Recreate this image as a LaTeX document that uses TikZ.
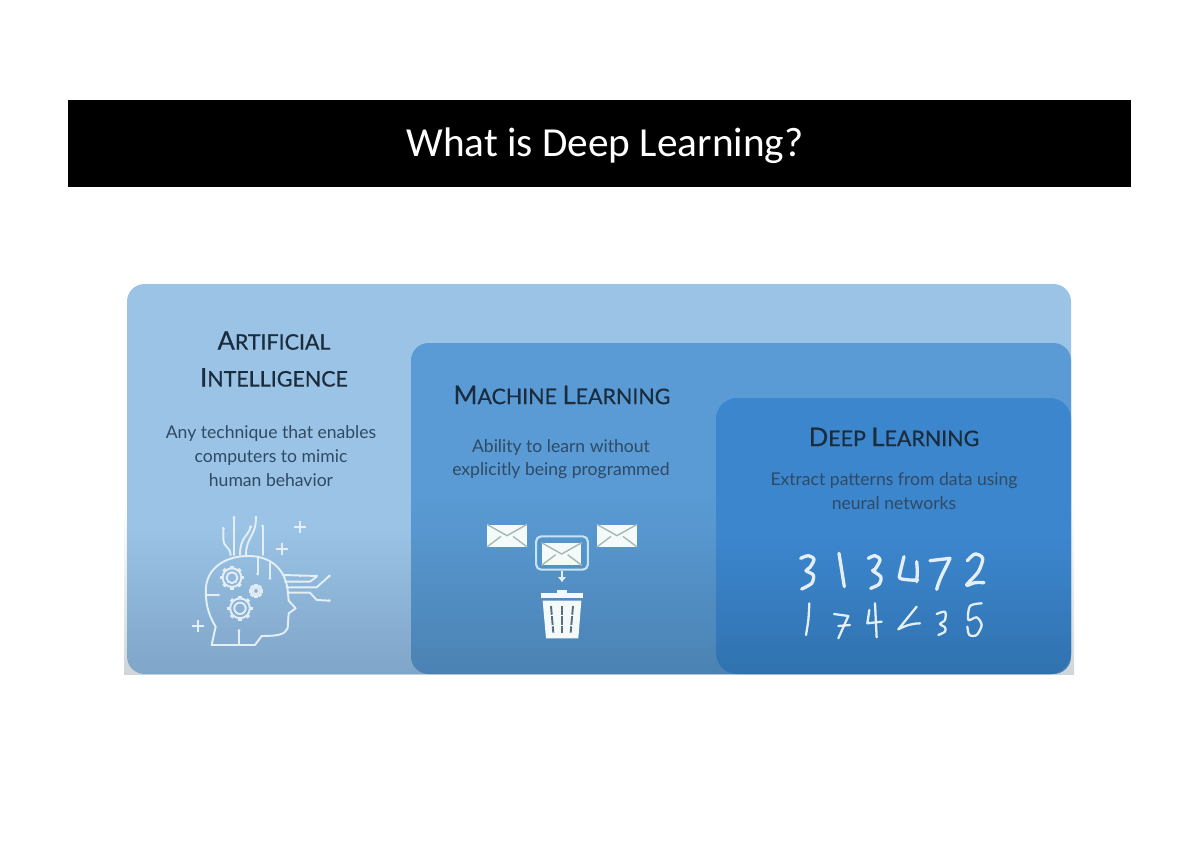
\documentclass[tikz,border=0pt]{standalone}
\usepackage{fontspec}
\setmainfont{Lato}
\newfontfamily\titlefont{Carlito}
\newfontfamily\headfont[FakeBold=0.5]{Lato}
\usetikzlibrary{positioning}
\usetikzlibrary{arrows.meta}

\definecolor{headcol}{HTML}{1B2C3D}
\definecolor{bodycol}{HTML}{2F4A63}
\definecolor{iconcol}{HTML}{E3EEF5}
\definecolor{edgecol}{HTML}{CFD6DA}
\definecolor{mailcol}{HTML}{F4FAFA}
\definecolor{maillinecol}{HTML}{A3B9B4}
\definecolor{framecol}{HTML}{C5E4F5}
\definecolor{aitop}{HTML}{9AC3E6}
\definecolor{aibot}{HTML}{7FA5C8}
\definecolor{mltop}{HTML}{5A9BD5}
\definecolor{mlbot}{HTML}{4B82B3}
\definecolor{dltop}{HTML}{3C86CE}
\definecolor{dlbot}{HTML}{3072AF}

\pgfdeclareverticalshading{aishade}{100bp}{color(0bp)=(aibot);color(25bp)=(aibot);color(44bp)=(aitop);color(100bp)=(aitop)}
\pgfdeclareverticalshading{mlshade}{100bp}{color(0bp)=(mlbot);color(25bp)=(mlbot);color(52bp)=(mltop);color(100bp)=(mltop)}
\pgfdeclareverticalshading{dlshade}{100bp}{color(0bp)=(dlbot);color(25bp)=(dlbot);color(50bp)=(dltop);color(100bp)=(dltop)}

\tikzset{
	headline/.style={text=headcol, align=center, font=\headfont\fontsize{12.2}{20}\selectfont},
	bodyline/.style={text=bodycol, align=center, font=\fontsize{10}{13.5}\selectfont},
	iconline/.style={draw=iconcol, line width=1.1pt, line cap=round, line join=round},
	digitline/.style={draw=iconcol, line width=1.9pt, line cap=round, line join=round},
	thindigit/.style={draw=iconcol, line width=1.3pt, line cap=round, line join=round},
	plusline/.style={draw=iconcol, line width=1.1pt},
	mailbox/.style={fill=mailcol, draw=none, minimum width=22.5pt, minimum height=12.5pt, inner sep=0pt},
}

% small capitals written by hand
\newcommand{\capword}[2]{{\fontsize{14.6}{20}\selectfont #1}#2}

\newcommand{\mailicon}[2]{%
	\node[mailbox] (#1) at (#2) {};
	\draw[draw=maillinecol, line width=0.8pt] (#1.north west) -- (#1.center) -- (#1.north east);
	\draw[draw=maillinecol, line width=0.8pt] (#1.south west) -- ++(8pt,6pt) (#1.south east) -- ++(-8pt,6pt);
}
\newcommand{\gearicon}[3]{%
	\draw[iconline] (#1,#2) circle (#3*0.45);
	\draw[iconline] (#1,#2) circle (#3*0.78);
	\foreach \ang in {0,45,...,315}
		\draw[iconline, line width=2pt, line cap=butt] (#1,#2) ++(\ang:#3*0.78) -- ++(\ang:#3*0.22);
}
\newcommand{\plusicon}[2]{%
	\draw[plusline] (#1-18,#2) -- (#1+18,#2);
	\draw[plusline] (#1,#2-18) -- (#1,#2+18);
}

\begin{document}
\begin{tikzpicture}[x=0.02cm,y=-0.02cm]
	\useasboundingbox (0,0) rectangle (1200,848);
	\fill[white] (0,0) rectangle (1200,848);
	
	\fill[black] (68,100) rectangle (1131,187);
	\node[text=white, font=\titlefont\fontsize{23.5}{28}\selectfont] (titletext) at (605,146) {What is Deep Learning?};
	
	% the three boxes
	\shade[top color=white, bottom color=edgecol] (124,500) rectangle (1074,674);
	\shade[shading=aishade, rounded corners=10pt] (127,284) rectangle (1071,674);
	\shade[shading=mlshade, rounded corners=10pt] (411,343) rectangle (1071,674);
	\shade[shading=dlshade, rounded corners=12pt] (716,398) rectangle (1071,674);
	
	\node[headline] (aihead) at (274,359) {\capword{A}{RTIFICIAL}\\[1pt]\capword{I}{NTELLIGENCE}};
	\node[bodyline] (aitext) at (271,456) {Any technique that enables\\computers to mimic\\human behavior};
	\node[headline] (mlhead) at (562,395) {\capword{M}{ACHINE} \capword{L}{EARNING}};
	\node[bodyline] (mltext) at (561,459) {Ability to learn without\\explicitly being programmed};
	\node[headline] (dlhead) at (894,437) {\capword{D}{EEP} \capword{L}{EARNING}};
	\node[bodyline] (dltext) at (894,491) {Extract patterns from data using\\neural networks};
	
	% head with gears
	\begin{scope}[shift={(120,280)},x=0.00667cm,y=-0.00667cm]
		\draw[iconline] (275,1095) -- (287,1040) .. controls (262,1000) and (255,960) .. (258,920)
			.. controls (265,860) and (320,828) .. (385,828)
			.. controls (450,828) and (495,865) .. (503,930) -- (506,962) -- (527,985) -- (506,1000)
			-- (503,1045) .. controls (495,1065) and (470,1068) .. (425,1068) -- (405,1095) -- cycle;
		\gearicon{336}{893}{36}
		\gearicon{408}{933}{21}
		\gearicon{360}{985}{38}
		% wires at the top
		\draw[iconline] (310,745) -- (310,780) .. controls (310,800) and (330,800) .. (332,825);
		\draw[iconline] (342,712) -- (342,825);
		\draw[iconline] (392,740) .. controls (385,770) and (360,770) .. (360,825);
		\draw[iconline] (408,712) .. controls (408,770) and (378,770) .. (378,825);
		\draw[iconline] (428,738) -- (428,825);
		\draw[iconline] (413,830) -- (413,882);
		\draw[iconline] (450,850) -- (450,895);
		\draw[iconline] (262,945) -- (295,945);
		\draw[iconline] (357,1095) -- (357,1052);
		% wires to the right
		\draw[iconline] (490,885) -- (590,888);
		\draw[iconline] (495,905) -- (570,905) -- (590,890);
		\draw[iconline] (500,922) -- (590,922) -- (628,888);
		\draw[iconline] (503,938) -- (570,938) -- (590,960) -- (628,962);
		\foreach \px/\py in {310/745,342/712,392/740,408/712,428/738,413/882,450/895,295/945,357/1052,540/888,590/888,628/888,628/962}
			\fill[iconcol] (\px,\py) circle (4.5);
		\plusicon{540}{742}
		\plusicon{487}{806}
		\plusicon{235}{1038}
	\end{scope}
	
	% mail and bin
	\begin{scope}[shift={(410,500)},x=0.00667cm,y=-0.00667cm]
		\mailicon{mailone}{291,107}
		\mailicon{mailtwo}{621,107}
		\mailicon{mailthree}{455,162}
		\node[draw=framecol, line width=1.2pt, rounded corners=3pt, minimum width=29.5pt, minimum height=19pt, inner sep=0pt] (mailframe) at (456,159) {};
		\coordinate (bintop) at (456,247);
		\draw[-{Latex[length=3pt,width=5pt]}, draw=iconcol, line width=1pt] (mailframe.south) -- (bintop);
		\fill[mailcol] (392,280) rectangle (520,293);
		\fill[mailcol] (440,270) rectangle (470,280);
		\fill[mailcol] (398,302) -- (514,302) -- (505,415) -- (408,415) -- cycle;
		\foreach \xa/\xb in {423/430,456/456,489/482}
			\draw[draw=bodycol!80, line width=1.1pt, dash pattern=on 5pt off 0.8pt] (\xa,318) -- (\xb,398);
	\end{scope}
	
	% handwritten digits
	\begin{scope}[shift={(760,540)},x=0.00667cm,y=-0.00667cm]
		\draw[digitline] plot[smooth] coordinates {(122,55)(145,47)(162,58)(150,82)(138,92)(160,105)(155,130)(125,147)};
		\draw[digitline] plot[smooth] coordinates {(237,40)(245,90)(253,140)};
		\draw[digitline] plot[smooth] coordinates {(325,55)(345,47)(360,60)(345,88)(338,92)(362,110)(358,132)(332,145)};
		\draw[digitline] plot[smooth] coordinates {(432,50)(420,100)(420,115)(450,120)(473,120)};
		\draw[digitline] plot[smooth] coordinates {(470,65)(472,95)(470,125)};
		\draw[digitline] (510,62) -- (570,55) .. controls (555,90) and (540,110) .. (530,148);
		\draw[digitline] plot[smooth] coordinates {(622,62)(645,42)(668,55)(655,95)(620,135)(645,128)(672,128)};
		
		\draw[thindigit] plot[smooth] coordinates {(148,190)(145,240)(138,285)};
		\draw[thindigit] (222,222) -- (265,228) -- (235,295);
		\draw[thindigit] (235,258) -- (270,255);
		\draw[thindigit] (328,210) -- (322,250) -- (365,245);
		\draw[thindigit] (345,190) -- (350,292);
		\draw[thindigit] (470,200) -- (415,268) .. controls (440,255) and (460,250) .. (480,250);
		\draw[thindigit] plot[smooth] coordinates {(530,222)(555,215)(555,240)(540,252)(555,262)(555,275)(535,285)};
		\draw[thindigit] plot[smooth] coordinates {(665,190)(630,198)(625,240)(650,232)(665,255)(650,285)(628,285)(622,260)};
	\end{scope}
\end{tikzpicture}
\end{document}
